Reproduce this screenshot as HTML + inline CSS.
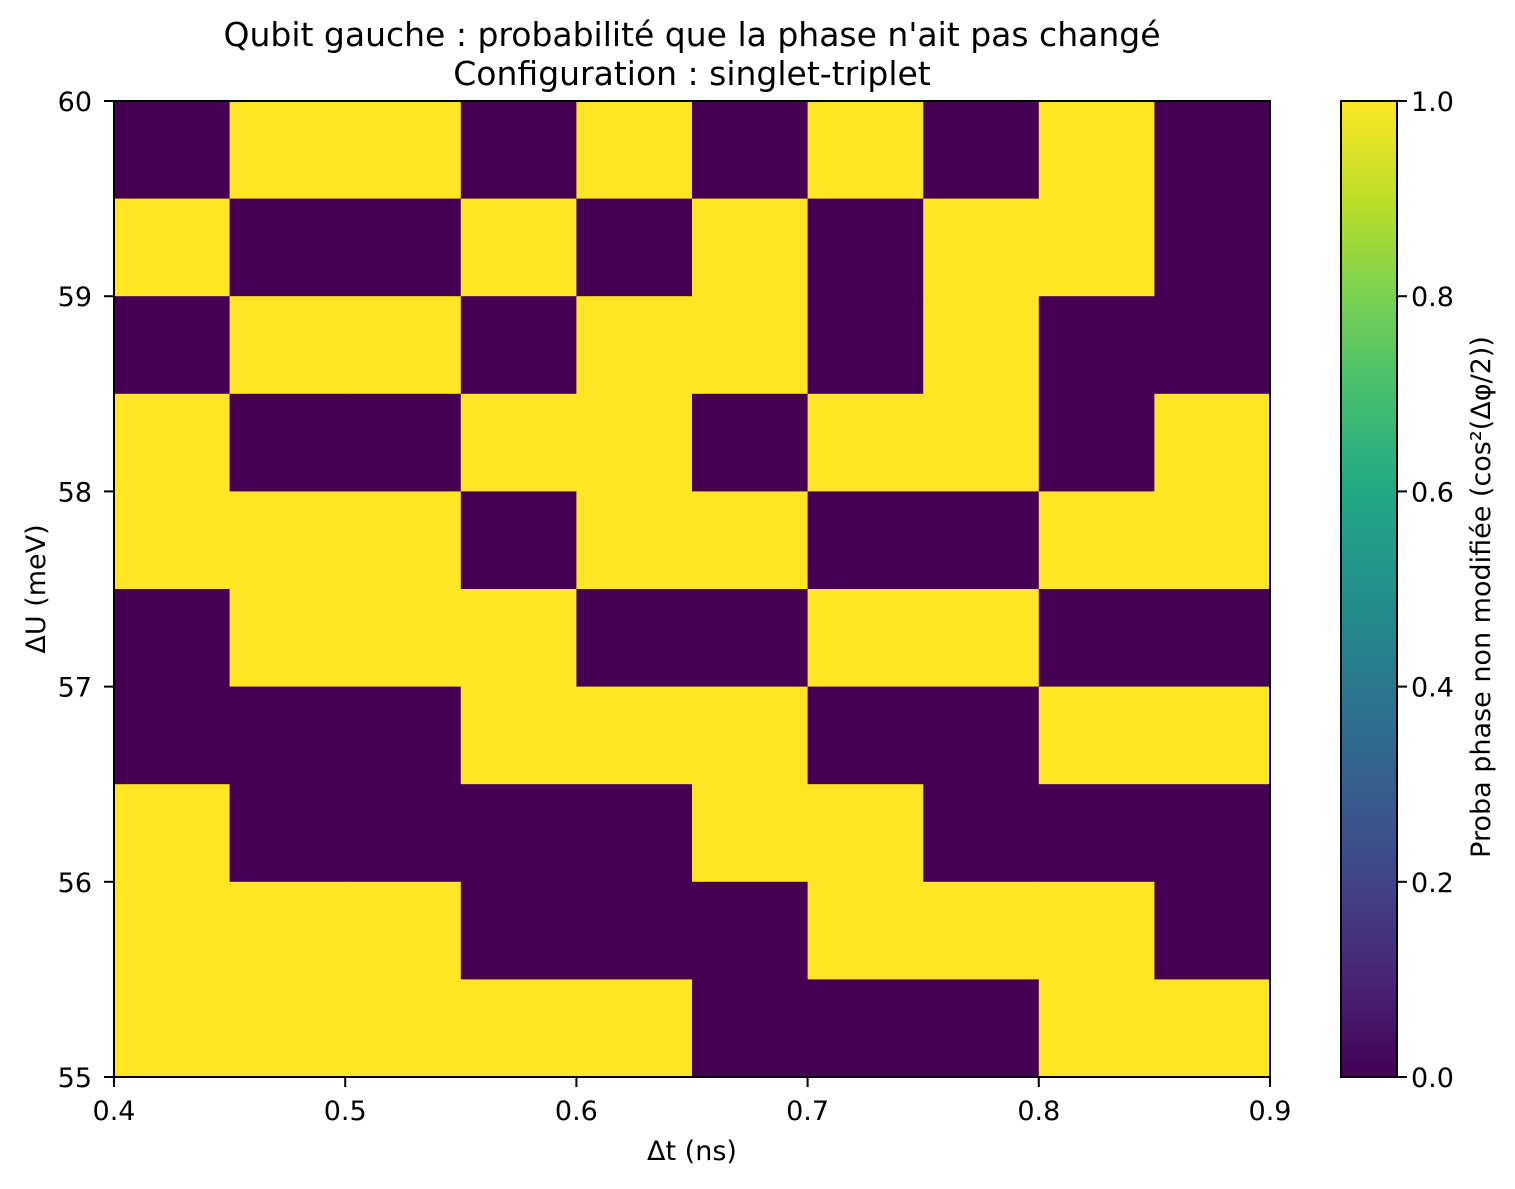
<!DOCTYPE html>
<html><head><meta charset="utf-8"><style>
body{margin:0;background:#fff;}
svg text{font-family:"DejaVu Sans","Liberation Sans",sans-serif;fill:#000;}
</style></head><body>
<svg width="1515" height="1184" xmlns="http://www.w3.org/2000/svg">
<defs><linearGradient id="vir" x1="0" y1="1" x2="0" y2="0">
<stop offset="0" stop-color="#440154"/><stop offset="0.1" stop-color="#482475"/><stop offset="0.2" stop-color="#414487"/><stop offset="0.3" stop-color="#355f8d"/><stop offset="0.4" stop-color="#2a788e"/><stop offset="0.5" stop-color="#21918c"/><stop offset="0.6" stop-color="#22a884"/><stop offset="0.7" stop-color="#44bf70"/><stop offset="0.8" stop-color="#7ad151"/><stop offset="0.9" stop-color="#bddf26"/><stop offset="1" stop-color="#fde725"/>
</linearGradient></defs>
<g id="cells"></g>
<rect x="114" y="101" width="1156" height="976" fill="none" stroke="#000" stroke-width="2"/>
<g id="axes"></g>
<text x="692" y="46" font-size="33" text-anchor="middle">Qubit gauche : probabilité que la phase n'ait pas changé</text>
<text x="692" y="85" font-size="33" text-anchor="middle">Configuration : singlet-triplet</text>
<text x="692" y="1160" font-size="27" text-anchor="middle">Δt (ns)</text>
<text transform="translate(45,589) rotate(-90)" font-size="27" text-anchor="middle">ΔU (meV)</text>
<rect x="1341" y="101" width="56" height="976" fill="url(#vir)" stroke="#000" stroke-width="2"/>
<text transform="translate(1490,597) rotate(-90)" font-size="27" text-anchor="middle">Proba phase non modifiée  (cos²(Δφ/2))</text>
</svg>
<script>
const xTicks=[0.4,0.5,0.6,0.7,0.8,0.9];
const yTicks=[55,56,57,58,59,60];
const cbTicks=[0,0.2,0.4,0.6,0.8,1.0];
const xEdgesStart=0.4, xStep=0.05;
const yEdgesStart=55, yStep=0.5;
// rows from top (59.5-60) to bottom (55-55.5)
const values=[
[0,1,1,0,1,0,1,0,1,0],
[1,0,0,1,0,1,0,1,1,0],
[0,1,1,0,1,1,0,1,0,0],
[1,0,0,1,1,0,1,1,0,1],
[1,1,1,0,1,1,0,0,1,1],
[0,1,1,1,0,0,1,1,0,0],
[0,0,0,1,1,1,0,0,1,1],
[1,0,0,0,0,1,1,0,0,0],
[1,1,1,0,0,0,1,1,1,0],
[1,1,1,1,1,0,0,0,1,1]
];
const NS="http://www.w3.org/2000/svg";
const X=v=>114+(v-0.4)/0.5*1156;
const Y=v=>1077-(v-55)/5*976;
const CB=v=>1077-v*976;
const cells=document.getElementById('cells'),axes=document.getElementById('axes');
function mk(t,a,p){const e=document.createElementNS(NS,t);for(const k in a)e.setAttribute(k,a[k]);p.appendChild(e);return e;}
const nr=values.length;
values.forEach((row,r)=>row.forEach((v,c)=>{
 const x0=X(xEdgesStart+c*xStep),x1=X(xEdgesStart+(c+1)*xStep);
 const yTop=yEdgesStart+(nr-r)*yStep,yBot=yEdgesStart+(nr-r-1)*yStep;
 const e=mk('rect',{x:x0,y:Y(yTop),width:x1-x0+0.5,height:Y(yBot)-Y(yTop)+0.5,fill:v>0.5?'#fde725':'#440154'},cells);
 
 
}));
xTicks.forEach(t=>{
 const l=mk('line',{x1:X(t),x2:X(t),y1:1077,y2:1087,stroke:'#000','stroke-width':2},axes);
 
 
 const s=mk('text',{x:X(t),y:1120,'font-size':27,'text-anchor':'middle'},axes);s.textContent=t.toFixed(1);
 
 
});
yTicks.forEach(t=>{
 const l=mk('line',{x1:104,x2:114,y1:Y(t),y2:Y(t),stroke:'#000','stroke-width':2},axes);
 
 
 const s=mk('text',{x:92,y:Y(t)+10,'font-size':27,'text-anchor':'end'},axes);s.textContent=t;
 
 
});
cbTicks.forEach(t=>{
 const l=mk('line',{x1:1397,x2:1407,y1:CB(t),y2:CB(t),stroke:'#000','stroke-width':2},axes);
 
 
 const s=mk('text',{x:1411,y:CB(t)+10,'font-size':27},axes);s.textContent=t.toFixed(1);
 
 
});
</script>
</body></html>
